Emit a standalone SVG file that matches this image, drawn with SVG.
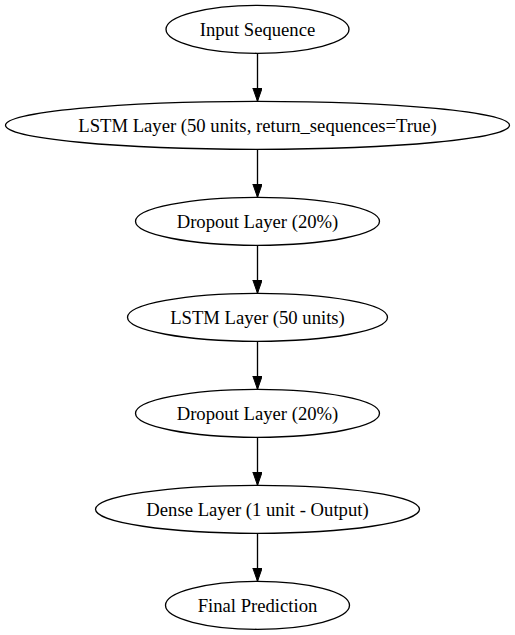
<svg xmlns="http://www.w3.org/2000/svg" width="515" height="635" viewBox="0 0 515 635">
<defs>
<style>
.node ellipse{fill:none;stroke:#000;stroke-width:1.33}
.node text{font-family:"Liberation Serif","Times New Roman",serif;font-size:18.67px;text-anchor:middle;fill:#000}
.edge{stroke:#000;stroke-width:1.33;fill:none}
</style>
<marker id="arr" markerUnits="userSpaceOnUse" markerWidth="14" markerHeight="10" refX="13.3" refY="4.67" orient="auto" viewBox="0 0 14 10">
<path d="M0,0 L13.3,4.67 L0,9.33 Z" fill="#000" stroke="#000" stroke-width="1"/>
</marker>
</defs>
<rect width="515" height="635" fill="#fff"/>
<g id="edges">
<line class="edge" x1="257.5" y1="53.3" x2="257.5" y2="101.3" marker-end="url(#arr)"/>
<line class="edge" x1="257.5" y1="149.3" x2="257.5" y2="197.3" marker-end="url(#arr)"/>
<line class="edge" x1="257.5" y1="245.3" x2="257.5" y2="293.3" marker-end="url(#arr)"/>
<line class="edge" x1="257.5" y1="341.3" x2="257.5" y2="389.3" marker-end="url(#arr)"/>
<line class="edge" x1="257.5" y1="437.3" x2="257.5" y2="485.3" marker-end="url(#arr)"/>
<line class="edge" x1="257.5" y1="533.3" x2="257.5" y2="581.3" marker-end="url(#arr)"/>
</g>
<g id="input" class="node"><ellipse cx="257.5" cy="29.3" rx="91.5" ry="24"/><text x="257.5" y="36">Input Sequence</text></g>
<g id="lstm1" class="node"><ellipse cx="257.5" cy="125.3" rx="252" ry="24"/><text x="257.5" y="132">LSTM Layer (50 units, return_sequences=True)</text></g>
<g id="dropout1" class="node"><ellipse cx="257.5" cy="221.3" rx="122" ry="24"/><text x="257.5" y="228">Dropout Layer (20%)</text></g>
<g id="lstm2" class="node"><ellipse cx="257.5" cy="317.3" rx="130" ry="24"/><text x="257.5" y="324">LSTM Layer (50 units)</text></g>
<g id="dropout2" class="node"><ellipse cx="257.5" cy="413.3" rx="122" ry="24"/><text x="257.5" y="420">Dropout Layer (20%)</text></g>
<g id="dense" class="node"><ellipse cx="257.5" cy="509.3" rx="162" ry="24"/><text x="257.5" y="516">Dense Layer (1 unit - Output)</text></g>
<g id="final" class="node"><ellipse cx="257.5" cy="605.3" rx="92" ry="24"/><text x="257.5" y="612">Final Prediction</text></g>
</svg>
